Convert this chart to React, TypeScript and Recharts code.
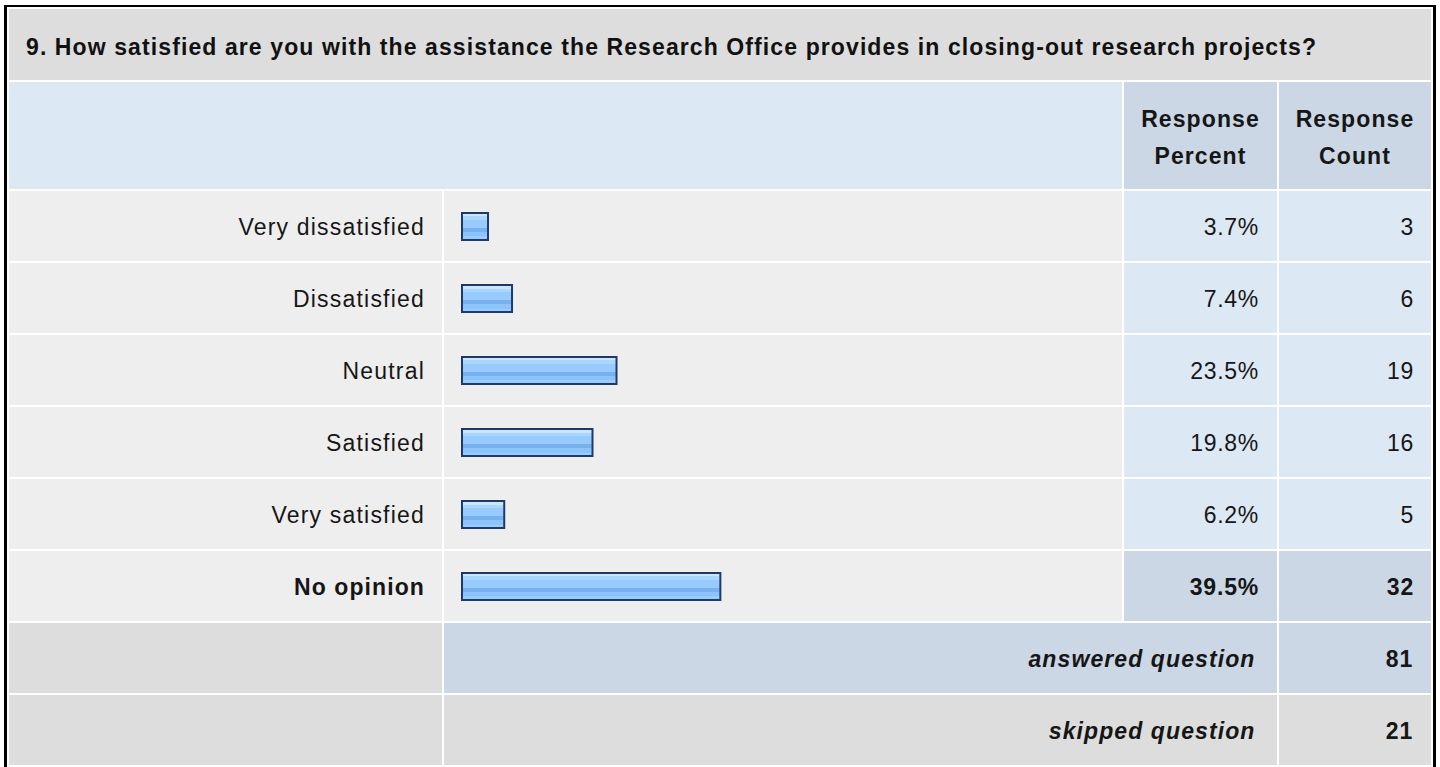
import React from "react";
import { BarChart, Bar, XAxis, YAxis } from "recharts";

// ---------- data ----------
const title =
  "9. How satisfied are you with the assistance the Research Office provides in closing-out research projects?";
const categories = [
  "Very dissatisfied",
  "Dissatisfied",
  "Neutral",
  "Satisfied",
  "Very satisfied",
  "No opinion",
];
const percents = [3.7, 7.4, 23.5, 19.8, 6.2, 39.5];
const counts = [3, 6, 19, 16, 5, 32];
const headerPercent = ["Response", "Percent"];
const headerCount = ["Response", "Count"];
const answeredLabel = "answered question";
const answeredCount = 81;
const skippedLabel = "skipped question";
const skippedCount = 21;
const boldCategory = "No opinion";

const data = categories.map((name, i) => ({
  name,
  percent: percents[i],
  count: counts[i],
}));

// ---------- styles ----------
const FONT = '"Liberation Sans", Arial, Helvetica, sans-serif';
const FS = 23;
const TEXT = "#161616";
const C_TITLE = "#dddddd";
const C_ROW = "#eeeeee";
const C_LIGHTBLUE = "#dde8f5";
const C_DARKBLUE = "#cbd7e5";
const C_GRAY = "#dddddd";

const X = {
  label: [9, 442],
  bar: [444, 1122],
  pct: [1124, 1277],
  cnt: [1279, 1431],
};
const TITLE_ROW = [9, 80];
const HEADER_ROW = [82, 189];
const ROW0 = 191;
const ROW_H = 70;
const PITCH = 72;

type CellProps = {
  x0: number;
  x1: number;
  y0: number;
  y1: number;
  bg: string;
  children?: React.ReactNode;
  align?: "left" | "right" | "center";
  pr?: number;
  pl?: number;
  dy?: number;
  textStyle?: React.CSSProperties;
};

const Cell = ({ x0, x1, y0, y1, bg, children, align = "right", pr = 0, pl = 0, dy = 1, textStyle }: CellProps) => (
  <div
    style={{
      position: "absolute",
      left: x0,
      top: y0,
      width: x1 - x0,
      height: y1 - y0,
      background: bg,
    }}
  >
    {children !== undefined && (
      <div
        style={{
          position: "absolute",
          left: 0,
          right: 0,
          top: dy,
          height: y1 - y0,
          lineHeight: `${y1 - y0}px`,
          textAlign: align,
          paddingRight: pr,
          paddingLeft: pl,
          boxSizing: "border-box",
          whiteSpace: "nowrap",
          fontFamily: FONT,
          fontSize: FS,
          color: TEXT,
          letterSpacing: 0.8,
          ...textStyle,
        }}
      >
        {children}
      </div>
    )}
  </div>
);

const HeaderCell = ({ x0, x1, lines }: { x0: number; x1: number; lines: string[] }) => (
  <div
    style={{
      position: "absolute",
      left: x0,
      top: HEADER_ROW[0],
      width: x1 - x0,
      height: HEADER_ROW[1] - HEADER_ROW[0],
      background: C_DARKBLUE,
    }}
  >
    <div
      style={{
        position: "absolute",
        left: 0,
        right: 0,
        top: 2,
        bottom: -2,
        display: "flex",
        alignItems: "center",
        justifyContent: "center",
      }}
    >
      <div
        style={{
          fontFamily: FONT,
          fontSize: FS,
          fontWeight: 700,
          lineHeight: "37px",
          textAlign: "center",
          color: TEXT,
          letterSpacing: 1.1,
        }}
      >
        {lines.map((l) => (
          <div key={l}>{l}</div>
        ))}
      </div>
    </div>
  </div>
);

const CategoryTick = (props: any) => {
  const { x, y, payload } = props;
  const bold = payload.value === boldCategory;
  return (
    <text
      x={x}
      y={y}
      dy={9}
      textAnchor="end"
      fill={TEXT}
      style={{
        fontFamily: FONT,
        fontSize: FS,
        fontWeight: bold ? 700 : 400,
        letterSpacing: bold ? 1.1 : 1.2,
      }}
    >
      {payload.value}
    </text>
  );
};

const BarShape = (props: any) => {
  const { x, y, width, height } = props;
  if (width == null || height == null) return null;
  return (
    <g>
      <rect x={x - 2} y={y - 2} width={width + 4} height={height + 4} fill="#1f3a66" />
      <rect x={x} y={y} width={width} height={height} fill="url(#barStripes)" />
    </g>
  );
};

export default function App() {
  const rowTop = (k: number) => ROW0 + PITCH * k;
  const nData = data.length;
  const answeredTop = rowTop(nData);
  const skippedTop = rowTop(nData + 1);

  return (
    <div
      style={{
        position: "absolute",
        left: 0,
        top: 0,
        width: 1440,
        height: 767,
        overflow: "hidden",
        background: "#ffffff",
      }}
    >
      {/* outer frame */}
      <div
        style={{
          position: "absolute",
          left: 4,
          top: 5,
          width: 1432,
          height: 820,
          boxSizing: "border-box",
          borderLeft: "3px solid #000",
          borderRight: "3px solid #000",
          borderTop: "2px solid #000",
          background: "#fff",
        }}
      />

      {/* title */}
      <Cell
        x0={X.label[0]}
        x1={X.cnt[1]}
        y0={TITLE_ROW[0]}
        y1={TITLE_ROW[1]}
        bg={C_TITLE}
        align="left"
        pl={17}
        dy={3}
        textStyle={{ fontWeight: 700, letterSpacing: 1.1, color: "#111" }}
      >
        {title}
      </Cell>

      {/* header row */}
      <Cell x0={X.label[0]} x1={X.bar[1]} y0={HEADER_ROW[0]} y1={HEADER_ROW[1]} bg={C_LIGHTBLUE} />
      <HeaderCell x0={X.pct[0]} x1={X.pct[1]} lines={headerPercent} />
      <HeaderCell x0={X.cnt[0]} x1={X.cnt[1]} lines={headerCount} />

      {/* data rows */}
      {data.map((d, k) => {
        const y0 = rowTop(k);
        const y1 = y0 + ROW_H;
        const bold = d.name === boldCategory;
        const numBg = bold ? C_DARKBLUE : C_LIGHTBLUE;
        const ts: React.CSSProperties = bold
          ? { fontWeight: 700, letterSpacing: 0.8 }
          : { letterSpacing: 0.7 };
        return (
          <React.Fragment key={d.name}>
            <Cell x0={X.label[0]} x1={X.label[1]} y0={y0} y1={y1} bg={C_ROW} />
            <Cell x0={X.bar[0]} x1={X.bar[1]} y0={y0} y1={y1} bg={C_ROW} />
            <Cell x0={X.pct[0]} x1={X.pct[1]} y0={y0} y1={y1} bg={numBg} pr={18} textStyle={ts}>
              {`${d.percent.toFixed(1)}%`}
            </Cell>
            <Cell x0={X.cnt[0]} x1={X.cnt[1]} y0={y0} y1={y1} bg={numBg} pr={17} textStyle={ts}>
              {d.count}
            </Cell>
          </React.Fragment>
        );
      })}

      {/* answered */}
      <Cell x0={X.label[0]} x1={X.label[1]} y0={answeredTop} y1={answeredTop + ROW_H} bg={C_GRAY} />
      <Cell
        x0={X.bar[0]}
        x1={X.pct[1]}
        y0={answeredTop}
        y1={answeredTop + ROW_H}
        bg={C_DARKBLUE}
        pr={21.5}
        textStyle={{ fontWeight: 700, fontStyle: "italic", letterSpacing: 1.1 }}
      >
        {answeredLabel}
      </Cell>
      <Cell
        x0={X.cnt[0]}
        x1={X.cnt[1]}
        y0={answeredTop}
        y1={answeredTop + ROW_H}
        bg={C_DARKBLUE}
        pr={18}
        textStyle={{ fontWeight: 700, letterSpacing: 0.8 }}
      >
        {answeredCount}
      </Cell>

      {/* skipped */}
      <Cell x0={X.label[0]} x1={X.label[1]} y0={skippedTop} y1={skippedTop + ROW_H} bg={C_GRAY} />
      <Cell
        x0={X.bar[0]}
        x1={X.pct[1]}
        y0={skippedTop}
        y1={skippedTop + ROW_H}
        bg={C_GRAY}
        pr={21.5}
        textStyle={{ fontWeight: 700, fontStyle: "italic", letterSpacing: 1.1 }}
      >
        {skippedLabel}
      </Cell>
      <Cell
        x0={X.cnt[0]}
        x1={X.cnt[1]}
        y0={skippedTop}
        y1={skippedTop + ROW_H}
        bg={C_GRAY}
        pr={18}
        textStyle={{ fontWeight: 700, letterSpacing: 0.8 }}
      >
        {skippedCount}
      </Cell>

      {/* bar chart over label + bar columns */}
      <div style={{ position: "absolute", left: X.label[0], top: ROW0 - 1 }}>
        <BarChart
          width={X.bar[1] - X.label[0]}
          height={PITCH * nData}
          data={data}
          layout="vertical"
          margin={{ top: 0, right: 10, bottom: 0, left: 0 }}
          barSize={25}
        >
          <defs>
            <linearGradient id="barStripes" x1="0" y1="0" x2="0" y2="1">
              <stop offset="0" stopColor="#c9e5ff" />
              <stop offset="0.1" stopColor="#c9e5ff" />
              <stop offset="0.1" stopColor="#aad6ff" />
              <stop offset="0.23" stopColor="#aad6ff" />
              <stop offset="0.23" stopColor="#97cbff" />
              <stop offset="0.57" stopColor="#97cbff" />
              <stop offset="0.57" stopColor="#79b0ee" />
              <stop offset="0.73" stopColor="#79b0ee" />
              <stop offset="0.73" stopColor="#8cc3fb" />
              <stop offset="0.9" stopColor="#8cc3fb" />
              <stop offset="0.9" stopColor="#9acdff" />
              <stop offset="1" stopColor="#9acdff" />
            </linearGradient>
          </defs>
          <XAxis type="number" domain={[0, 100]} hide />
          <YAxis
            type="category"
            dataKey="name"
            width={454}
            axisLine={false}
            tickLine={false}
            tickSize={0}
            tickMargin={38}
            tick={<CategoryTick />}
            interval={0}
          />
          <Bar dataKey="percent" isAnimationActive={false} shape={<BarShape />} />
        </BarChart>
      </div>
    </div>
  );
}
